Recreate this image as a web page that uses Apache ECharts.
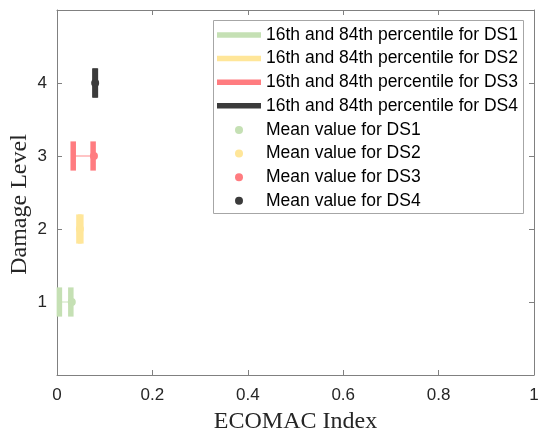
<!DOCTYPE html>
<html>
<head>
<meta charset="utf-8">
<script src="https://cdn.jsdelivr.net/npm/echarts@6/dist/echarts.min.js"></script>
<style>
html,body{margin:0;padding:0;background:#fff;}
#chart{width:540px;height:440px;}
</style>
</head>
<body>
<div id="chart"></div>
<script>
// ---- data ----
var levels = [1, 2, 3, 4];
var dsNames = ['DS1', 'DS2', 'DS3', 'DS4'];
var p16 = [0.005, 0.046, 0.034, 0.0795];
var p84 = [0.029, 0.050, 0.0757, 0.0805];
var means = [0.031, 0.048, 0.0775, 0.080];
var xTicks = [0, 0.2, 0.4, 0.6, 0.8, 1];
var yTicks = [1, 2, 3, 4];
var colors = ['#c5e0b4', '#ffe699', '#ff7c80', '#3b3b3b'];
var capHalf = 0.2;

var axisColor = '#808080';
var labelFont = 'Liberation Sans';

var series = [];
var legend1 = [], legend2 = [];
dsNames.forEach(function (ds, i) {
  var pname = '16th and 84th percentile for ' + ds;
  var mname = 'Mean value for ' + ds;
  legend1.push({ name: pname, icon: 'rect', itemStyle: { color: colors[i] } });
  legend2.push({ name: mname, icon: 'circle', itemStyle: { color: colors[i] } });
  series.push({
    name: pname,
    type: 'custom',
    itemStyle: { color: colors[i] },
    data: [[p16[i], p84[i], levels[i]]],
    renderItem: function (params, api) {
      var lo = api.value(0), hi = api.value(1), y = api.value(2);
      var a = api.coord([lo, y]);
      var b = api.coord([hi, y]);
      var aTop = api.coord([lo, y + capHalf]);
      var aBot = api.coord([lo, y - capHalf]);
      var bTop = api.coord([hi, y + capHalf]);
      var bBot = api.coord([hi, y - capHalf]);
      return {
        type: 'group',
        children: [
          { type: 'line', shape: { x1: a[0], y1: a[1], x2: b[0], y2: b[1] },
            style: { stroke: colors[i], lineWidth: 1, opacity: 0.9 } },
          { type: 'line', shape: { x1: aTop[0], y1: aTop[1], x2: aBot[0], y2: aBot[1] },
            style: { stroke: colors[i], lineWidth: 5.5 } },
          { type: 'line', shape: { x1: bTop[0], y1: bTop[1], x2: bBot[0], y2: bBot[1] },
            style: { stroke: colors[i], lineWidth: 5.5 } }
        ]
      };
    },
    z: 2
  });
});
dsNames.forEach(function (ds, i) {
  series.push({
    name: 'Mean value for ' + ds,
    type: 'scatter',
    symbol: 'circle',
    symbolSize: 8,
    itemStyle: { color: colors[i], opacity: 1 },
    data: [[means[i], levels[i]]],
    z: 3
  });
});

function xAxisCfg(pos, showLabel) {
  return {
    type: 'value', position: pos, min: xTicks[0], max: xTicks[xTicks.length - 1], interval: 0.2,
    axisLine: { show: true, onZero: false, lineStyle: { color: axisColor, width: 1 } },
    axisTick: { show: true, inside: true, length: 5, lineStyle: { color: axisColor } },
    splitLine: { show: false },
    axisLabel: { show: showLabel, margin: 12, color: '#262626', fontFamily: labelFont, fontSize: 17,
      formatter: function (v) { return String(+v.toFixed(1)); } },
    name: showLabel ? 'ECOMAC Index' : '',
    nameLocation: 'middle', nameGap: 35, nameMoveOverlap: false,
    nameTextStyle: { fontFamily: 'Liberation Serif', fontSize: 24, color: '#262626' }
  };
}
function yAxisCfg(pos, showLabel) {
  return {
    type: 'value', position: pos, min: 0, max: 5, interval: 1,
    axisLine: { show: true, onZero: false, lineStyle: { color: axisColor, width: 1 } },
    axisTick: { show: true, inside: true, length: 5, lineStyle: { color: axisColor } },
    splitLine: { show: false },
    axisLabel: { show: showLabel, margin: 10, color: '#262626', fontFamily: labelFont, fontSize: 17,
      formatter: function (v) { return yTicks.indexOf(v) >= 0 ? String(v) : ''; } },
    name: showLabel ? 'Damage Level' : '',
    nameLocation: 'middle', nameGap: 25, nameMoveOverlap: false,
    nameTextStyle: { fontFamily: 'Liberation Serif', fontSize: 24, color: '#262626', padding: [0, 24, 0, 0] }
  };
}

var chart = echarts.init(document.getElementById('chart'), null, { renderer: 'canvas' });
chart.setOption({
  animation: false,
  backgroundColor: '#ffffff',
  grid: { left: 57, right: 6, top: 10, bottom: 65, containLabel: false, outerBoundsMode: 'none' },
  xAxis: [xAxisCfg('bottom', true), xAxisCfg('top', false)],
  yAxis: [yAxisCfg('left', true), yAxisCfg('right', false)],
  graphic: [{
    type: 'rect', left: 213, top: 20, z: 3,
    shape: { width: 310, height: 193 },
    style: { fill: '#ffffff', stroke: '#a6a6a6', lineWidth: 1 }
  }],
  legend: [{
    orient: 'vertical', left: 217, top: 25, padding: 0, itemGap: 3.6,
    itemWidth: 44, itemHeight: 5.5, z: 4,
    textStyle: { fontFamily: labelFont, fontSize: 17.5, lineHeight: 20, color: '#000' },
    data: legend1, selectedMode: false
  }, {
    orient: 'vertical', left: 235, top: 120, padding: 0, itemGap: 3.6,
    itemWidth: 8, itemHeight: 8, z: 4,
    textStyle: { fontFamily: labelFont, fontSize: 17.5, lineHeight: 20, color: '#000', padding: [0, 0, 0, 18] },
    data: legend2, selectedMode: false
  }],
  series: series
});
</script>
</body>
</html>
